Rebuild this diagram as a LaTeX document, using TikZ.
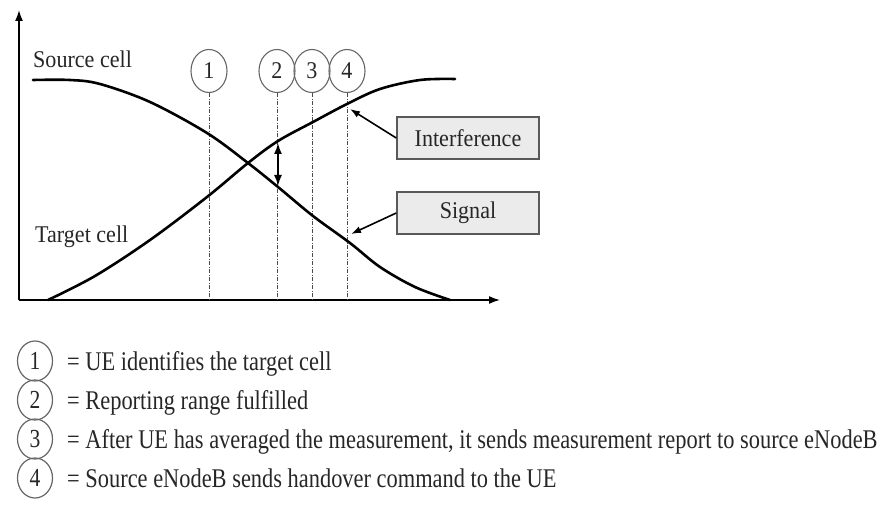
\documentclass[tikz,border=0pt]{standalone}
\usepackage{fontspec}
\setmainfont{Liberation Serif}
\newfontfamily\grfont[FakeStretch=0.92]{Liberation Serif}
\newfontfamily\legfont[FakeStretch=0.83]{Liberation Serif}
\usetikzlibrary{arrows.meta,shapes.geometric}
\tikzset{
  curve/.style={line width=2.6bp, black, line cap=round},
  axis/.style={line width=1.6bp, black, -{Latex[length=11bp,width=8bp]}},
  guide/.style={line width=0.9bp, black!70, dash pattern=on 4bp off 1.5bp on 1bp off 1.5bp},
  mark circle/.style={ellipse, draw=black!60, line width=1.1bp, minimum width=36bp, minimum height=43bp, inner sep=0pt, font=\grfont\fontsize{24bp}{26bp}\selectfont, text=black!85},
  leg circle/.style={ellipse, draw=black!60, line width=1.2bp, minimum width=35bp, minimum height=40bp, inner sep=0pt, font=\legfont\fontsize{26bp}{28bp}\selectfont, text=black!85},
  callout/.style={draw=black!65, fill=black!8, line width=1.5bp, minimum width=142bp, minimum height=42bp, inner sep=0pt, font=\grfont\fontsize{24bp}{26bp}\selectfont, text=black!85},
  lbl/.style={anchor=base west, inner sep=0pt, font=\grfont\fontsize{24bp}{26bp}\selectfont, text=black!85},
  leg/.style={anchor=base west, inner sep=0pt, font=\legfont\fontsize{27bp}{29bp}\selectfont, text=black!85},
  pointer/.style={line width=1.6bp, black, -{Latex[length=10bp,width=7bp]}},
}
\begin{document}
\begin{tikzpicture}[x=1bp,y=-1bp]
\useasboundingbox (0,0) rectangle (877,506);
% axes
\coordinate (O) at (19,300);
\coordinate (ytop) at (19,10);
\coordinate (xend) at (500,300);
\draw[axis] (O) -- (ytop);
\draw[axis] (O) -- (xend);
% labels
\node[lbl] (src) at (33,68) {Source cell};
\node[lbl] (tgt) at (35,243) {Target cell};
% marker circles
\node[mark circle] (c1) at (209,71) {1};
\node[mark circle] (c2) at (277,71) {2};
\node[mark circle] (c3) at (312,71) {3};
\node[mark circle] (c4) at (347,71) {4};
\foreach \c in {c1,c2,c3,c4}{
  \draw[guide] (\c.south) -- (\c.south |- O);
}
% curves
\draw[curve] plot[smooth, tension=0.55] coordinates {(33,80) (70,80) (100,84) (150,102) (207,133) (248,163) (278,187) (313,216) (350,243) (380,267) (415,287) (450,300)};
\draw[curve] plot[smooth, tension=0.55] coordinates {(48,300) (95,276) (150,240) (207,197) (248,163) (278,141) (313,122) (347,104) (380,89) (420,80) (455,79)};
% double arrow
\coordinate (da1) at (278,143);
\coordinate (da2) at (278,186);
\draw[line width=1.8bp, {Latex[length=11bp,width=8bp]}-{Latex[length=11bp,width=8bp]}] (da1) -- (da2);
% callouts
\node[callout] (intf) at (468,138) {Interference};
\node[callout] (sig) at (468,213) {Signal};
\coordinate (ip) at (350,109);
\coordinate (sp) at (351,234);
\draw[pointer] (intf.west) -- (ip);
\draw[pointer] (sig.west) -- (sp);
% legend
\node[leg circle] (l1) at (35,361) {1};
\node[leg circle] (l2) at (35,400) {2};
\node[leg circle] (l3) at (35,439) {3};
\node[leg circle] (l4) at (35,478) {4};
\node[leg] (t1) at (67,370) {= UE identifies the target cell};
\node[leg] (t2) at (67,409) {= Reporting range fulfilled};
\node[leg] (t3) at (67,448) {= After UE has averaged the measurement, it sends measurement report to source eNodeB};
\node[leg] (t4) at (67,487) {= Source eNodeB sends handover command to the UE};
\end{tikzpicture}
\end{document}
